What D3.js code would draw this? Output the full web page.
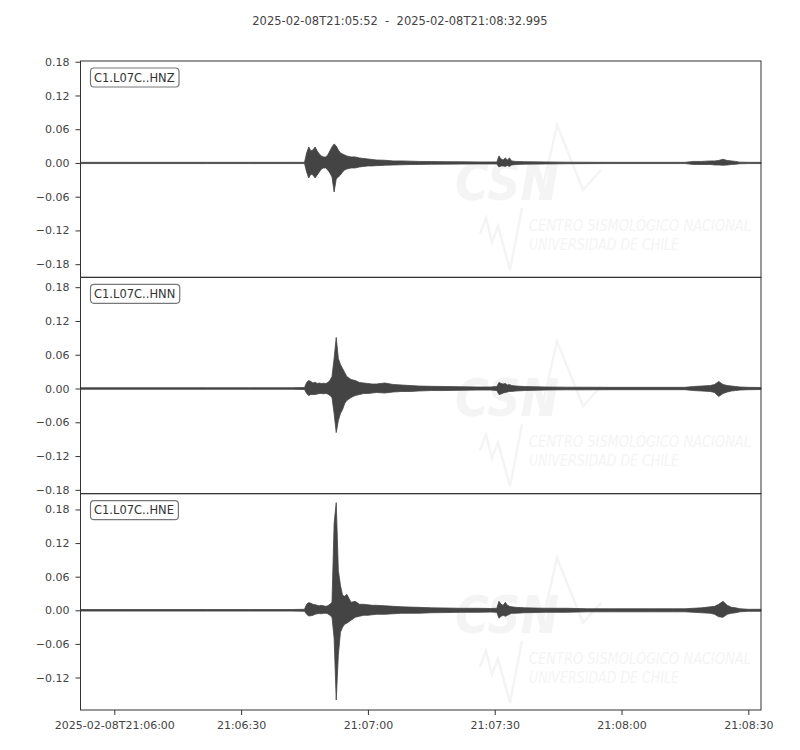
<!DOCTYPE html>
<html>
<head>
<meta charset="utf-8">
<script src="https://cdn.jsdelivr.net/npm/d3@7"></script>
<style>
  body { margin: 0; background: #ffffff; }
  text { font-family: "DejaVu Sans", sans-serif; }
</style>
</head>
<body>
<div id="chart"></div>
<script>
// Trace names and y limits for each panel (top to bottom)
var channels = ["C1.L07C..HNZ", "C1.L07C..HNN", "C1.L07C..HNE"];
var yLimits = [[-0.2034, 0.1813], [-0.1868, 0.1975], [-0.178, 0.2082]];
var yTicks = [0.18, 0.12, 0.06, 0, -0.06, -0.12, -0.18];

// Time window and x tick labels
var startTime = "2025-02-08T21:05:52";
var endTime = "2025-02-08T21:08:32.995";
var xTicks = ["2025-02-08T21:06:00", "2025-02-08T21:06:30", "2025-02-08T21:07:00",
              "2025-02-08T21:07:30", "2025-02-08T21:08:00", "2025-02-08T21:08:30"];
var xTickLabels = ["2025-02-08T21:06:00", "21:06:30", "21:07:00", "21:07:30", "21:08:00", "21:08:30"];

// Envelope sample times, seconds after start
var times = [0, 10, 20, 30, 40, 50, 53, 53.5, 54, 54.5, 55, 55.5, 56, 56.5, 57, 57.5, 58, 58.5, 59, 59.5,
             60, 60.5, 61, 61.5, 62, 62.5, 63, 64, 65, 66, 67, 68, 69, 70, 72, 74, 76, 78, 80, 83, 86, 90,
             94, 97, 98.5, 99, 99.5, 100, 100.5, 101, 101.5, 102, 103, 105, 110, 115, 120, 125, 130, 135,
             140, 143, 145, 147, 149, 150, 151, 152, 153, 154, 155, 156, 158, 160.995];

// Upper / lower envelope of each trace
var hnzMax = [0.0011, 0.0011, 0.0011, 0.0011, 0.0011, 0.0011, 0.0011, 0.0178, 0.0285, 0.0214, 0.0231, 0.0285,
              0.0214, 0.0160, 0.0125, 0.0107, 0.0107, 0.0142, 0.0214, 0.0285, 0.0338, 0.0302, 0.0231, 0.0178,
              0.0160, 0.0142, 0.0125, 0.0107, 0.0107, 0.0089, 0.0080, 0.0071, 0.0062, 0.0053, 0.0048, 0.0036,
              0.0036, 0.0032, 0.0027, 0.0025, 0.0023, 0.0021, 0.0018, 0.0018, 0.0018, 0.0125, 0.0071, 0.0053,
              0.0089, 0.0053, 0.0089, 0.0036, 0.0027, 0.0023, 0.0018, 0.0014, 0.0012, 0.0011, 0.0011, 0.0011,
              0.0011, 0.0011, 0.0027, 0.0027, 0.0036, 0.0036, 0.0044, 0.0066, 0.0044, 0.0036, 0.0027, 0.0014,
              0.0011, 0.0011];
var hnzMin = [-0.0011, -0.0011, -0.0011, -0.0011, -0.0011, -0.0011, -0.0011, -0.0160, -0.0267, -0.0196, -0.0214, -0.0267,
              -0.0214, -0.0160, -0.0107, -0.0089, -0.0089, -0.0125, -0.0178, -0.0249, -0.0516, -0.0285, -0.0249, -0.0214,
              -0.0160, -0.0125, -0.0107, -0.0089, -0.0089, -0.0071, -0.0062, -0.0053, -0.0053, -0.0048, -0.0041, -0.0036,
              -0.0032, -0.0028, -0.0027, -0.0023, -0.0021, -0.0020, -0.0018, -0.0018, -0.0018, -0.0071, -0.0053, -0.0053,
              -0.0062, -0.0044, -0.0062, -0.0036, -0.0027, -0.0021, -0.0018, -0.0014, -0.0012, -0.0011, -0.0011, -0.0011,
              -0.0011, -0.0011, -0.0027, -0.0027, -0.0027, -0.0036, -0.0036, -0.0041, -0.0036, -0.0027, -0.0023, -0.0014,
              -0.0011, -0.0011];
var hnnMax = [0.0014, 0.0014, 0.0014, 0.0014, 0.0014, 0.0014, 0.0018, 0.0107, 0.0142, 0.0125, 0.0098, 0.0112,
              0.0089, 0.0098, 0.0089, 0.0094, 0.0089, 0.0107, 0.0142, 0.0214, 0.0534, 0.0907, 0.0534, 0.0427,
              0.0356, 0.0285, 0.0214, 0.0160, 0.0142, 0.0107, 0.0098, 0.0089, 0.0080, 0.0080, 0.0098, 0.0071,
              0.0062, 0.0053, 0.0044, 0.0039, 0.0036, 0.0032, 0.0027, 0.0027, 0.0036, 0.0107, 0.0089, 0.0080,
              0.0089, 0.0062, 0.0071, 0.0053, 0.0044, 0.0036, 0.0027, 0.0023, 0.0023, 0.0021, 0.0021, 0.0021,
              0.0021, 0.0021, 0.0036, 0.0044, 0.0053, 0.0071, 0.0125, 0.0071, 0.0053, 0.0044, 0.0036, 0.0027,
              0.0021, 0.0018];
var hnnMin = [-0.0014, -0.0014, -0.0014, -0.0014, -0.0014, -0.0014, -0.0018, -0.0089, -0.0125, -0.0107, -0.0107, -0.0107,
              -0.0098, -0.0089, -0.0089, -0.0094, -0.0089, -0.0098, -0.0125, -0.0160, -0.0445, -0.0783, -0.0569, -0.0445,
              -0.0374, -0.0267, -0.0214, -0.0160, -0.0125, -0.0107, -0.0089, -0.0089, -0.0080, -0.0071, -0.0080, -0.0062,
              -0.0053, -0.0053, -0.0044, -0.0036, -0.0036, -0.0032, -0.0027, -0.0027, -0.0036, -0.0107, -0.0098, -0.0080,
              -0.0071, -0.0062, -0.0053, -0.0053, -0.0044, -0.0036, -0.0027, -0.0023, -0.0023, -0.0021, -0.0021, -0.0021,
              -0.0021, -0.0021, -0.0036, -0.0044, -0.0053, -0.0071, -0.0142, -0.0089, -0.0062, -0.0044, -0.0036, -0.0027,
              -0.0021, -0.0018];
var hneMax = [0.0014, 0.0014, 0.0014, 0.0014, 0.0014, 0.0014, 0.0018, 0.0107, 0.0137, 0.0125, 0.0107, 0.0098,
              0.0089, 0.0080, 0.0089, 0.0080, 0.0071, 0.0080, 0.0107, 0.0142, 0.1548, 0.1922, 0.0712, 0.0445,
              0.0267, 0.0249, 0.0285, 0.0142, 0.0160, 0.0107, 0.0107, 0.0098, 0.0089, 0.0089, 0.0080, 0.0071,
              0.0062, 0.0057, 0.0053, 0.0044, 0.0041, 0.0036, 0.0036, 0.0032, 0.0036, 0.0160, 0.0107, 0.0089,
              0.0142, 0.0089, 0.0071, 0.0062, 0.0053, 0.0044, 0.0036, 0.0036, 0.0027, 0.0027, 0.0027, 0.0027,
              0.0027, 0.0027, 0.0036, 0.0044, 0.0062, 0.0071, 0.0107, 0.0160, 0.0089, 0.0053, 0.0044, 0.0027,
              0.0018, 0.0018];
var hneMin = [-0.0014, -0.0014, -0.0014, -0.0014, -0.0014, -0.0014, -0.0018, -0.0071, -0.0101, -0.0098, -0.0089, -0.0071,
              -0.0062, -0.0059, -0.0062, -0.0053, -0.0053, -0.0062, -0.0089, -0.0125, -0.0498, -0.1601, -0.0801, -0.0391,
              -0.0302, -0.0249, -0.0231, -0.0178, -0.0125, -0.0107, -0.0089, -0.0089, -0.0080, -0.0071, -0.0071, -0.0062,
              -0.0053, -0.0053, -0.0053, -0.0044, -0.0041, -0.0036, -0.0036, -0.0032, -0.0036, -0.0142, -0.0107, -0.0089,
              -0.0107, -0.0089, -0.0071, -0.0053, -0.0053, -0.0044, -0.0036, -0.0036, -0.0027, -0.0027, -0.0027, -0.0027,
              -0.0027, -0.0027, -0.0036, -0.0044, -0.0053, -0.0071, -0.0116, -0.0125, -0.0071, -0.0053, -0.0044, -0.0027,
              -0.0018, -0.0018];

var envelopes = [[hnzMax, hnzMin], [hnnMax, hnnMin], [hneMax, hneMin]];

// Layout
var width = 800, height = 750;
var left = 80.5, right = 761;
var panelTop = 61, panelBottom = 710;
var panelH = (panelBottom - panelTop) / channels.length;
var ink = "#444444";
var faint = "#f4f4f4";

var svg = d3.select("#chart")
    .append("svg")
    .attr("width", width)
    .attr("height", height)
    .attr("viewBox", "0 0 " + width + " " + height);

var parseTime = d3.utcParse("%Y-%m-%dT%H:%M:%S.%L");
var t0 = parseTime(startTime + ".000");
var t1 = parseTime(endTime);

var x = d3.scaleUtc()
    .domain([t0, t1])
    .range([left, right]);

// Title
svg.append("text")
    .attr("x", width / 2)
    .attr("y", 25)
    .attr("text-anchor", "middle")
    .style("white-space", "pre")
    .attr("font-size", "11.5px")
    .attr("fill", ink)
    .text(startTime + "  -  " + endTime);

channels.forEach(function(name, i) {
    var top = panelTop + i * panelH;
    var y = d3.scaleLinear()
        .domain(yLimits[i])
        .range([top + panelH, top]);

    var g = svg.append("g");

    // clip everything inside the panel box
    svg.append("clipPath")
        .attr("id", "clip" + i)
        .append("rect")
        .attr("x", left)
        .attr("y", top)
        .attr("width", right - left)
        .attr("height", panelH);

    // Faint CSN watermark
    var wm = g.append("g")
        .attr("clip-path", "url(#clip" + i + ")")
        .append("g")
        .attr("transform", "translate(0," + (top - panelTop) + ")");
    wm.append("text")
        .attr("x", 455)
        .attr("y", 200)
        .attr("font-size", "52px")
        .attr("font-weight", "bold")
        .attr("font-style", "italic")
        .attr("textLength", 104)
        .attr("lengthAdjust", "spacingAndGlyphs")
        .attr("fill", faint)
        .text("CSN");
    wm.append("polyline")
        .attr("points", "540,200 557,125 583,190 601,170")
        .attr("fill", "none")
        .attr("stroke", faint)
        .attr("stroke-width", 2.5);
    wm.append("polyline")
        .attr("points", "480,234 486,218 492,242 498,226 510,270 522,208")
        .attr("fill", "none")
        .attr("stroke", faint)
        .attr("stroke-width", 2.5);
    wm.append("text")
        .attr("x", 529)
        .attr("y", 231)
        .attr("font-size", "15.5px")
        .attr("font-style", "italic")
        .attr("textLength", 222)
        .attr("lengthAdjust", "spacingAndGlyphs")
        .attr("fill", faint)
        .text("CENTRO SISMOLÓGICO NACIONAL");
    wm.append("text")
        .attr("x", 529)
        .attr("y", 250)
        .attr("font-size", "15.5px")
        .attr("font-style", "italic")
        .attr("textLength", 150)
        .attr("lengthAdjust", "spacingAndGlyphs")
        .attr("fill", faint)
        .text("UNIVERSIDAD DE CHILE");

    // Waveform envelope
    var pts = times.map(function(s, k) {
        return { t: new Date(t0.getTime() + s * 1000), hi: envelopes[i][0][k], lo: envelopes[i][1][k] };
    });
    var area = d3.area()
        .x(function(d) { return x(d.t); })
        .y0(function(d) { return y(d.lo); })
        .y1(function(d) { return y(d.hi); });
    g.append("path")
        .datum(pts)
        .attr("d", area)
        .attr("fill", ink)
        .attr("stroke", ink)
        .attr("stroke-width", 0.8)
        .attr("stroke-linejoin", "round");

    // Y axis
    var inRange = yTicks.filter(function(v) { return v >= yLimits[i][0] && v <= yLimits[i][1]; });
    var yAxis = g.append("g")
        .attr("transform", "translate(" + left + ",0)")
        .call(d3.axisLeft(y)
            .tickValues(inRange)
            .tickFormat(d3.format(".2f"))
            .tickSize(5)
            .tickPadding(6)
            .tickSizeOuter(0));
    yAxis.select(".domain").remove();
    yAxis.selectAll("line").attr("stroke", "#333333");
    yAxis.selectAll("text")
        .attr("font-family", "DejaVu Sans")
        .attr("font-size", "11px")
        .attr("fill", ink);

    // Panel frame
    g.append("rect")
        .attr("x", left)
        .attr("y", top)
        .attr("width", right - left)
        .attr("height", panelH)
        .attr("fill", "none")
        .attr("stroke", "#333333")
        .attr("stroke-width", 1);

    // Trace label box
    var box = g.append("rect")
        .attr("x", 90.5)
        .attr("y", top + 7)
        .attr("height", 19)
        .attr("rx", 3.5)
        .attr("fill", "#ffffff")
        .attr("stroke", "#777777")
        .attr("stroke-width", 1.2);
    var label = g.append("text")
        .attr("x", 94)
        .attr("y", top + 20.5)
        .attr("font-size", "11.5px")
        .attr("fill", "#333333")
        .text(name);
    box.attr("width", label.node().getComputedTextLength() + 8);
});

// X axis under the last panel
var xAxis = svg.append("g")
    .attr("transform", "translate(0," + panelBottom + ")")
    .call(d3.axisBottom(x)
        .tickValues(xTicks.map(function(s) { return parseTime(s + ".000"); }))
        .tickFormat(function(d, k) { return xTickLabels[k]; })
        .tickSize(5)
        .tickPadding(6)
        .tickSizeOuter(0));
xAxis.select(".domain").remove();
xAxis.selectAll("line").attr("stroke", "#333333");
xAxis.selectAll("text")
    .attr("font-family", "DejaVu Sans")
    .attr("font-size", "11px")
    .attr("fill", ink);
</script>
</body>
</html>
